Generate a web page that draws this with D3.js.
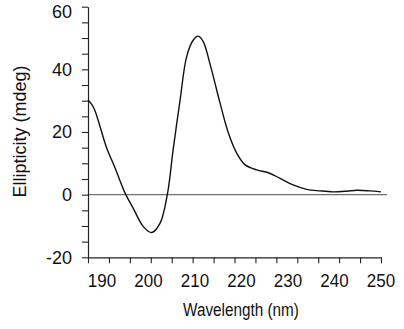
<!DOCTYPE html>
<html>
<head>
<meta charset="utf-8">
<script src="https://cdn.jsdelivr.net/npm/d3@7"></script>
<style>
  html, body { margin: 0; padding: 0; background: #fff; }
  svg { display: block; }
  text { font-family: "Liberation Sans", Arial, sans-serif; fill: #111; }
</style>
</head>
<body>
<svg id="chart" width="404" height="329"></svg>
<script>
// CD spectrum: wavelength (nm) vs ellipticity (mdeg)
const wavelength = [187, 187.8, 188.5, 189.6, 191.0, 192.8, 195.0, 196.7, 198.9, 200.7, 202.5, 204.1, 205.3, 206.8, 208.2, 209.6, 210.7, 211.8, 213.2, 215.4, 217.2, 219.0, 220.8, 223.3, 225.8, 228.3, 231.1, 234.0, 236.9, 239.7, 242.6, 244.8, 247.6, 250];
const ellipticity = [30.2, 28.8, 26.8, 21.7, 15.0, 8.6, 0.4, -4.3, -10.2, -12.1, -9.1, 0.4, 14.3, 30.2, 44.0, 49.3, 50.6, 48.8, 41.9, 29.2, 19.6, 13.2, 9.5, 7.9, 7.0, 5.2, 3.1, 1.7, 1.2, 0.9, 1.1, 1.4, 1.2, 0.9];

const xLabels = [190, 200, 210, 220, 230, 240, 250];
const yLabels = [-20, 0, 20, 40, 60];
const xDomain = [187, 250];
const yDomain = [-20, 60];
const xTickStep = 4.5;   // minor tick spacing along the wavelength axis
const yTickStep = 5;

const svg = d3.select("#chart");
const plotLeft = 88, plotRight = 381, plotTop = 6.7, plotBottom = 257.3;

const x = d3.scaleLinear().domain(xDomain).range([plotLeft, plotRight]);
const y = d3.scaleLinear().domain(yDomain).range([plotBottom, plotTop]);

// zero reference line
svg.append("line")
  .attr("x1", plotLeft).attr("x2", plotRight + 6)
  .attr("y1", y(0)).attr("y2", y(0))
  .attr("stroke", "#707070").attr("stroke-width", 1.2);

// y axis: ticks every 5 mdeg, labels every 20
const yTicks = d3.range(yDomain[0], yDomain[1] + 0.01, yTickStep);
const yAxis = svg.append("g").attr("transform", `translate(${plotLeft},0)`)
  .call(d3.axisLeft(y).tickValues(yTicks).tickSize(6).tickSizeOuter(0).tickFormat(""));
yAxis.select(".domain").attr("stroke", "#222").attr("stroke-width", 1.2);
yAxis.selectAll(".tick line").attr("stroke", "#222").attr("stroke-width", 1.1);

// y labels, kept inside the canvas at the top end
svg.append("g").selectAll("text").data(yLabels).join("text")
  .attr("x", plotLeft - 16)
  .attr("y", d => Math.max(y(d), 11.5))
  .attr("dy", "0.36em")
  .attr("text-anchor", "end")
  .style("font-size", "18px")
  .text(d => d);

// x axis: evenly spaced minor ticks, labels every 10 nm
const xTicks = d3.range(0, Math.round((xDomain[1] - xDomain[0]) / xTickStep) + 1)
  .map(i => xDomain[0] + i * xTickStep);
const xAxis = svg.append("g").attr("transform", `translate(0,${plotBottom})`)
  .call(d3.axisBottom(x).tickValues(xTicks).tickSize(6).tickSizeOuter(0).tickFormat(""));
xAxis.select(".domain").attr("stroke", "#222").attr("stroke-width", 1.2);
xAxis.selectAll(".tick line").attr("stroke", "#222").attr("stroke-width", 1.1);

svg.append("g").selectAll("text").data(xLabels).join("text")
  .attr("transform", d => `translate(${x(d)},${plotBottom + 30}) scale(1,1.12)`)
  .attr("text-anchor", "middle")
  .style("font-size", "17px")
  .text(d => d);

// spectrum curve
const line = d3.line()
  .x((d, i) => x(wavelength[i]))
  .y(d => y(d))
  .curve(d3.curveCatmullRom.alpha(0.5));
svg.append("path")
  .datum(ellipticity)
  .attr("d", line)
  .attr("fill", "none")
  .attr("stroke", "#111")
  .attr("stroke-width", 1.4);

// axis titles
svg.append("text")
  .attr("transform", "translate(241,316) scale(1,1.25)")
  .attr("text-anchor", "middle")
  .style("font-size", "15.3px")
  .text("Wavelength (nm)");

svg.append("text")
  .attr("transform", "translate(26,131.5) rotate(-90)")
  .attr("text-anchor", "middle")
  .style("font-size", "18px")
  .text("Ellipticity (mdeg)");
</script>
</body>
</html>
